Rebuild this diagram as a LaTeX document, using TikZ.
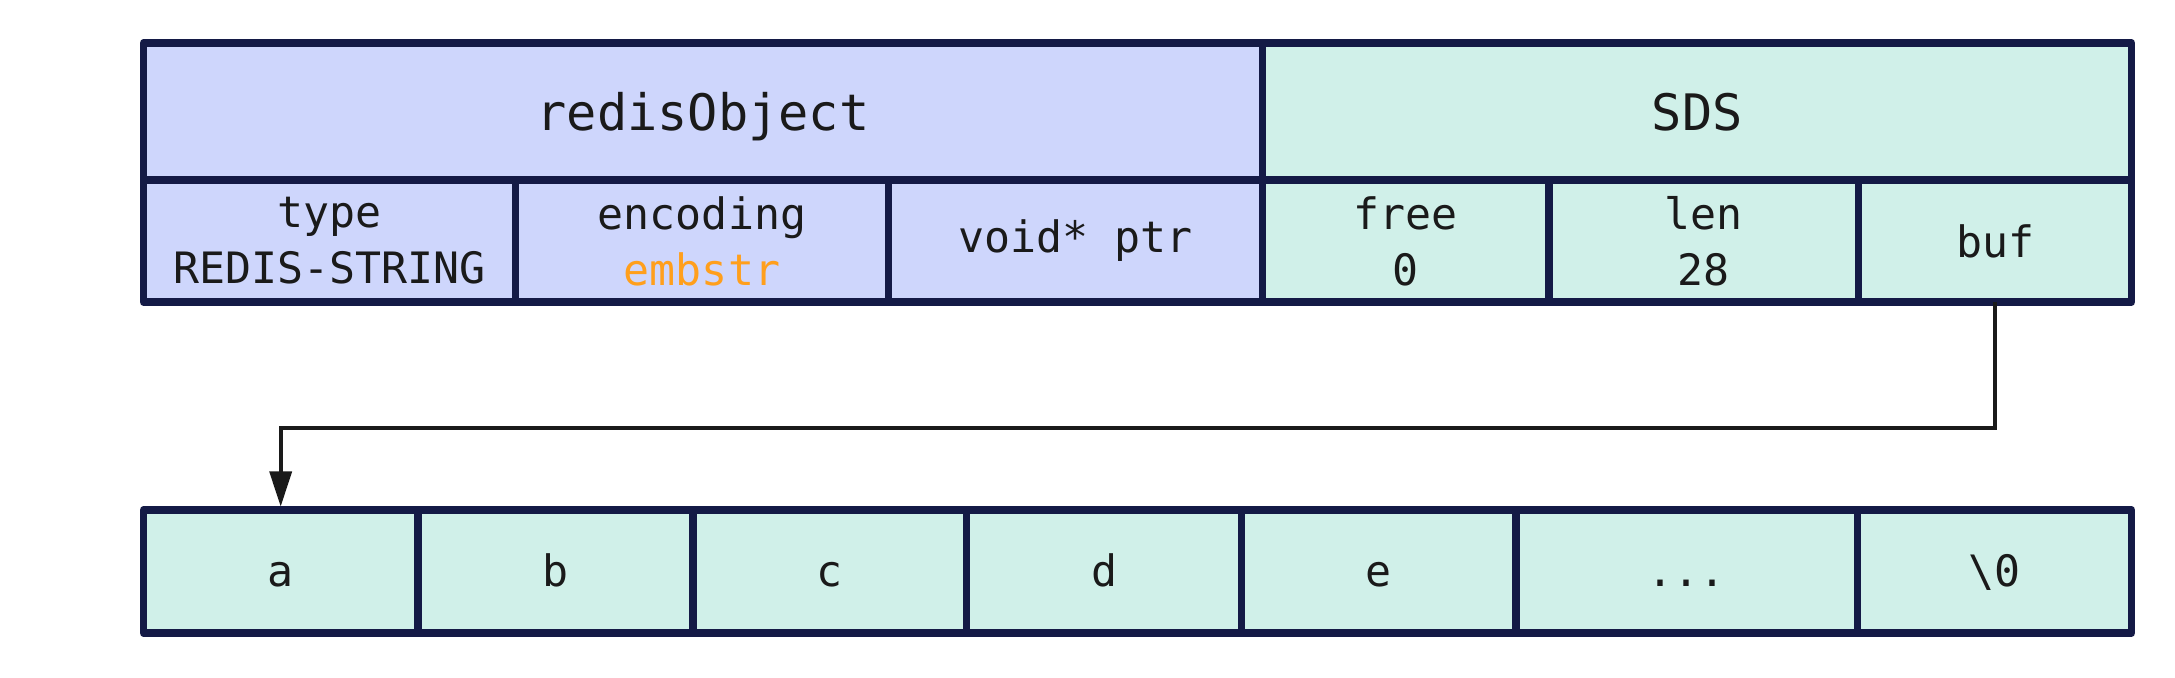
\documentclass[tikz,border=0pt]{standalone}
\usepackage{fontspec}
\setmonofont{DejaVu Sans Mono}
\usetikzlibrary{arrows.meta}
\definecolor{objfill}{HTML}{CED6FC}
\definecolor{sdsfill}{HTML}{D0F0E9}
\definecolor{edge}{HTML}{141A46}
\definecolor{ink}{HTML}{1A1A1A}
\definecolor{hilite}{HTML}{FF9F1C}
\begin{document}
\begin{tikzpicture}[
  cell/.style={draw=edge,line width=2.1pt,line join=round,text=ink,inner sep=0pt,outer sep=0pt,
    font=\ttfamily\fontsize{12.3}{15.9}\selectfont,align=center},
  obj/.style={cell,fill=objfill},
  sds/.style={cell,fill=sdsfill},
  byte/.style={sds,minimum height=1.23cm,text height=8.5pt,text depth=0pt},
  hdr/.style={font=\ttfamily\fontsize{14.3}{17}\selectfont,text depth=0pt},
  ptr/.style={draw=ink,line width=1.05pt,shorten >=1pt,-{Triangle[length=0.35cm,width=0.22cm]}}]
  \useasboundingbox (0,0) rectangle (21.75,6.78);
  \def\ha{1.37cm}
  \def\hb{1.22cm}

  % header row
  \node[obj,hdr,minimum width=11.193cm,minimum height=\ha] (robj) at (7.030,5.665) {redisObject};
  \node[sds,hdr,minimum width=8.689cm,minimum height=\ha] (sds) at (16.972,5.665) {SDS};

  % fields
  \node[obj,minimum width=3.719cm,minimum height=\hb] (type) at (3.294,4.37) {type\\REDIS-STRING};
  \node[obj,minimum width=3.734cm,minimum height=\hb] (enc) at (7.020,4.37) {encoding\\\textcolor{hilite}{embstr}};
  \node[obj,minimum width=3.740cm,minimum height=\hb] (vptr) at (10.757,4.37) {void* ptr};
  \node[sds,minimum width=2.863cm,minimum height=\hb] (free) at (14.059,4.37) {free\\0};
  \node[sds,minimum width=3.096cm,minimum height=\hb] (len) at (17.038,4.37) {len\\28};
  \node[sds,minimum width=2.730cm,minimum height=\hb] (buf) at (19.951,4.37) {buf};

  % buffer contents
  \node[byte,minimum width=2.746cm] (a) at (2.807,1.065) {a};
  \node[byte,minimum width=2.750cm] (b) at (5.555,1.065) {b};
  \node[byte,minimum width=2.737cm] (c) at (8.299,1.065) {c};
  \node[byte,minimum width=2.748cm] (d) at (11.041,1.065) {d};
  \node[byte,minimum width=2.745cm] (e) at (13.788,1.065) {e};
  \node[byte,minimum width=3.417cm] (dots) at (16.869,1.065) {...};
  \node[byte,minimum width=2.739cm] (nul) at (19.947,1.065) {\textbackslash 0};

  \coordinate (bend) at (19.951,2.50);
  \draw[ptr] (buf.south) -- (bend) -| (a.north);
\end{tikzpicture}
\end{document}
